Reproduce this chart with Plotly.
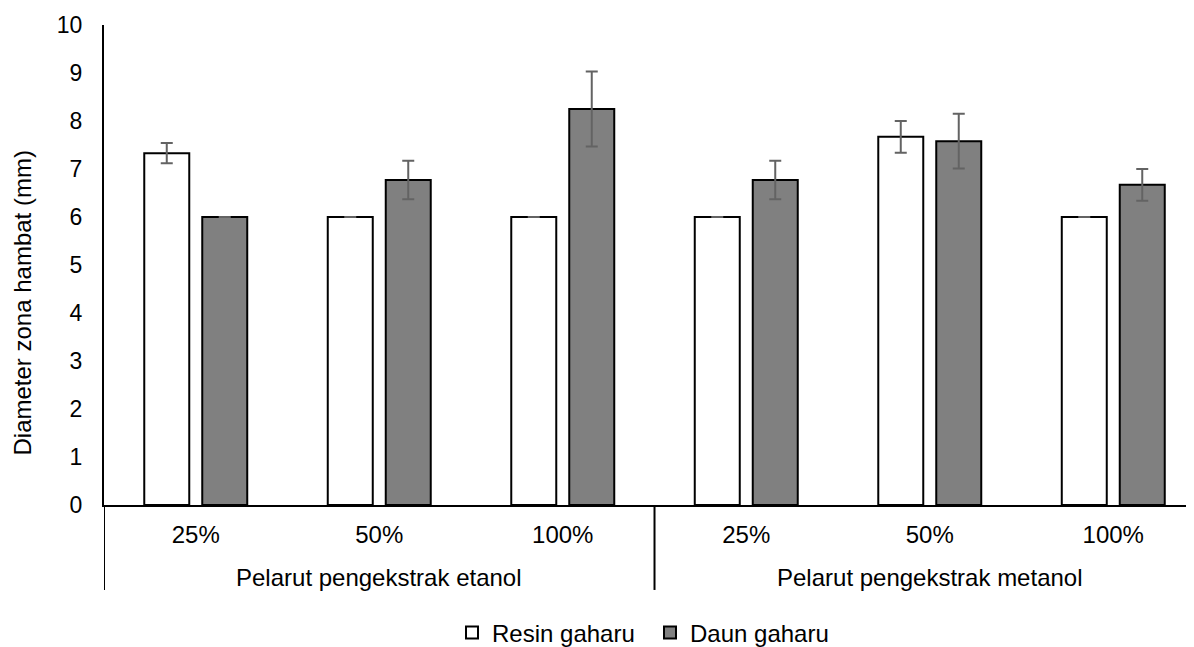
import plotly.graph_objects as go

groups = ["Pelarut pengekstrak etanol", "Pelarut pengekstrak metanol"]
group_of = [0, 0, 0, 1, 1, 1]
concentrations = ["25%", "50%", "100%", "25%", "50%", "100%"]

resin = [7.33, 6.0, 6.0, 6.0, 7.67, 6.0]
resin_err = [0.21, 0.0, 0.0, 0.0, 0.33, 0.0]
daun = [6.0, 6.77, 8.25, 6.77, 7.58, 6.67]
daun_err = [0.0, 0.40, 0.78, 0.40, 0.57, 0.33]

series_names = ["Resin gaharu", "Daun gaharu"]
y_title = "Diameter zona hambat (mm)"
FONT = "Liberation Sans, Arial, sans-serif"
FS = 24

# the page body has an 8 px default margin, so the figure is drawn 8 px in
OFF = 8
W, H = 1194 - OFF, 647 - OFF
L, T = 104 - OFF, 25 - OFF
B = H - (505 - OFF)
plot_w, plot_h = W - L, H - T - B

xpos = list(range(len(concentrations)))

fig = go.Figure()
fig.add_trace(go.Bar(
    x=xpos, y=resin, name=series_names[0],
    marker=dict(color="#FFFFFF", line=dict(color="#000000", width=2)),
    error_y=dict(type="data", array=resin_err, visible=True,
                 color="#636363", thickness=2, width=6),
))
fig.add_trace(go.Bar(
    x=xpos, y=daun, name=series_names[1],
    marker=dict(color="#808080", line=dict(color="#000000", width=2)),
    error_y=dict(type="data", array=daun_err, visible=True,
                 color="#636363", thickness=2, width=6),
))

fig.update_layout(
    width=W, height=H, autosize=False,
    margin=dict(l=L, r=0, t=T, b=B, pad=0, autoexpand=False),
    paper_bgcolor="white", plot_bgcolor="white",
    font=dict(family=FONT, size=FS, color="#000000"),
    barmode="group", bargap=0.368, bargroupgap=0.224,
    showlegend=True,
    legend=dict(orientation="h", xref="paper", x=(452 - 104) / plot_w,
                xanchor="left", yref="container", y=1 - (633 - OFF) / H,
                yanchor="middle", font=dict(size=FS), itemwidth=30,
                entrywidth=153, entrywidthmode="pixels",
                bgcolor="rgba(0,0,0,0)"),
)
fig.update_xaxes(
    tickmode="array", tickvals=xpos, ticktext=concentrations,
    showline=True, linecolor="#000000", linewidth=2, automargin=False,
    showgrid=False, zeroline=False, ticks="", ticklabelstandoff=7,
    range=[-0.5, 5.44], tickfont=dict(size=FS),
)
fig.update_yaxes(
    range=[0, 10], dtick=1, showline=True, linecolor="#000000", linewidth=2,
    showgrid=False, zeroline=False, ticks="", ticklabelstandoff=15,
    automargin=False, tickfont=dict(size=23),
)

# group labels and dividers of the two-level category axis
for g in range(len(groups)):
    members = [i for i, gi in enumerate(group_of) if gi == g]
    fig.add_annotation(
        text=groups[g], xref="x", yref="paper",
        x=sum(members) / len(members), y=-0.152,
        xanchor="center", yanchor="middle", showarrow=False,
        font=dict(size=FS),
    )
boundaries = [-0.5] + [i + 0.5 for i in range(len(group_of) - 1)
                       if group_of[i] != group_of[i + 1]] + [len(group_of) - 0.5]
for b in boundaries:
    fig.add_shape(type="line", xref="x", yref="paper", x0=b, x1=b,
                  y0=0, y1=-0.177, line=dict(color="#000000", width=2))

fig.add_annotation(
    text=y_title, textangle=-90, xref="paper", yref="paper",
    x=(22 - 104) / plot_w, y=(505 - 303.5) / plot_h,
    xanchor="center", yanchor="middle", borderpad=0,
    showarrow=False, font=dict(size=FS),
)

fig.write_html("out.html")
